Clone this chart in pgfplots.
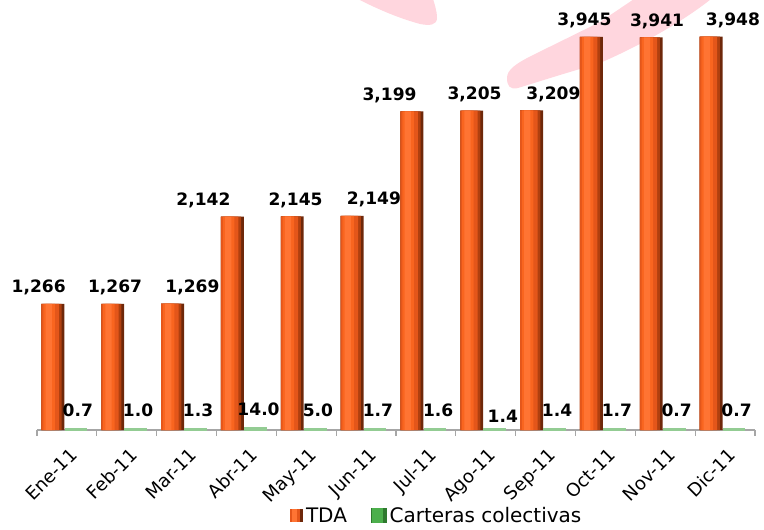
\documentclass[border=0pt]{standalone}
\usepackage{pgfplots}
\usepackage{pgfplotstable}
\pgfplotsset{compat=1.18}
\usepackage{fontspec}
\setmainfont{DejaVu Sans}
\definecolor{oA}{HTML}{6E280A}
\definecolor{oB}{HTML}{B0400F}
\definecolor{oC}{HTML}{E4561A}
\definecolor{oD}{HTML}{F9651F}
\definecolor{oE}{HTML}{FF7433}
\definecolor{gbar}{HTML}{93CC93}
\definecolor{gleg}{HTML}{4CAF4C}
\definecolor{gdark}{HTML}{2E7A2E}
\definecolor{pinkbg}{HTML}{FFD6DE}
\definecolor{axgray}{HTML}{A6A6A6}

\pgfplotstableread{
x y lab dx
0 1266 1,266 -21.15
1 1267 1,267 -8.8
2 1269 1,269 4.4
3 2142 2,142 -32.2
4 2145 2,145 -8.0
5 2149 2,149 5.9
6 3199 3,199 -27.3
7 3205 3,205 -8.4
8 3209 3,209 5.9
9 3945 3,945 -15.7
10 3941 3,941 -6.15
11 3948 3,948 5.9
}\tda

\pgfplotstableread{
x y lab dx dy
0 0.7 0.7 8.2 9.75
1 1.0 1.0 8.5 9.75
2 1.3 1.3 8.6 9.75
3 14.0 14.0 9.1 9.75
4 5.0 5.0 8.8 9.75
5 1.7 1.7 8.9 9.75
6 1.6 1.6 9.2 9.75
7 1.4 1.4 12.8 5.25
8 1.4 1.4 8.6 9.75
9 1.7 1.7 8.6 9.75
10 0.7 0.7 8.6 9.75
11 0.7 0.7 8.6 9.75
}\cc

\begin{document}
\begin{tikzpicture}
\begin{scope}[x=0.75pt,y=-0.75pt,shift={(-27.75pt,322.5pt)}]
\fill[pinkbg] (350,-5) .. controls (375,8) and (395,17) .. (420,24) .. controls (430,26) and (437,25) .. (437,18) .. controls (437,10) and (434,3) .. (432,-5) -- cycle;
\fill[pinkbg] (640,-5) -- (600,22) -- (533,55) .. controls (515,64) and (507,70) .. (507,78) .. controls (507,86) and (510,90) .. (518,88) -- (560,75) -- (600,63) .. controls (630,50) and (680,25) .. (716,-5) -- cycle;
\end{scope}
\begin{axis}[
  at={(0,0)}, anchor=south west,
  scale only axis, width=538.5pt, height=322.5pt,
  xmin=-0.5, xmax=11.5, ymin=0, ymax=4316,
  clip=false,
  axis y line=none,
  axis x line*=bottom,
  x axis line style={-, draw=axgray, line width=0.8pt},
  xtick={0,...,11},
  xticklabels={Ene-11,Feb-11,Mar-11,Abr-11,May-11,Jun-11,Jul-11,Ago-11,Sep-11,Oct-11,Nov-11,Dic-11},
  major tick length=0pt,
  xticklabel style={xshift=1.5pt, yshift=-12.5pt, rotate=45, anchor=north east, inner sep=0pt, font=\fontsize{13.6}{16}\selectfont},
  extra x ticks={-0.5,0.5,...,11.5},
  extra x tick labels={},
  extra x tick style={major tick length=4.5pt, tick align=outside, tick style={draw=axgray, line width=0.8pt}},
  legend columns=-1,
  legend style={at={(0.5574,-0.2)}, anchor=center, draw=none, fill=none,
    font=\fontsize{15}{18}\selectfont, inner sep=0pt,
    /tikz/every even column/.append style={column sep=16pt},
    nodes={inner sep=2pt}},
]
% TDA bars: stacked layers give the rounded shading of each bar
\addplot[ybar, bar width=0.384, bar shift=-0.234, draw=none, fill=oA, forget plot] table[x=x, y=y] {\tda};
\addplot[ybar, bar width=0.338, bar shift=-0.257, draw=none, fill=oB, forget plot] table[x=x, y=y] {\tda};
\addplot[ybar, bar width=0.292, bar shift=-0.280, draw=none, fill=oC,
  legend image code/.code={%
    \fill[oA] (0pt,-4.5pt) rectangle (9.75pt,5pt);
    \fill[oC] (0pt,-4.5pt) rectangle (7.5pt,5pt);
    \fill[oE] (1.5pt,-4.5pt) rectangle (5pt,5pt);}
] table[x=x, y=y] {\tda};
\addlegendentry{TDA}
\addplot[ybar, bar width=0.192, bar shift=-0.299, draw=none, fill=oD, forget plot] table[x=x, y=y] {\tda};
\addplot[ybar, bar width=0.104, bar shift=-0.305, draw=none, fill=oE, forget plot,
  point meta=explicit symbolic,
  visualization depends on={\thisrow{dx}\as\dx},
  nodes near coords,
  nodes near coords style={font=\fontsize{12.8}{15}\selectfont\bfseries, anchor=base, text=black, xshift=\dx pt, yshift=8.25pt}
] table[x=x, y=y, meta=lab] {\tda};
\addplot[ybar, bar width=0.33, bar shift=0.15, fill=gbar, draw=gbar, line width=2.2pt,
  point meta=explicit symbolic,
  visualization depends on={\thisrow{dx}\as\dx},
  visualization depends on={\thisrow{dy}\as\dy},
  nodes near coords,
  nodes near coords style={font=\fontsize{12.8}{15}\selectfont\bfseries, anchor=base, text=black, xshift=\dx pt, yshift=\dy pt},
  legend image code/.code={%
    \fill[gdark] (0pt,-4.5pt) rectangle (9.75pt,5pt);
    \fill[gleg] (0.5pt,-4.5pt) rectangle (7pt,5pt);}
] table[x=x, y=y, meta=lab] {\cc};
\addlegendentry{Carteras colectivas}
\end{axis}
\pgfresetboundingbox
\path (-27.75pt,-74.25pt) rectangle (545.25pt,322.5pt);
\end{tikzpicture}
\end{document}
